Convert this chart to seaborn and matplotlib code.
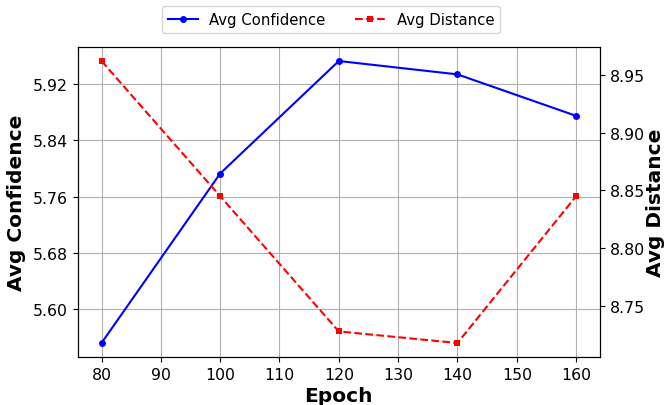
import matplotlib
matplotlib.use("Agg")
import matplotlib.pyplot as plt
import seaborn as sns
import pandas as pd

epochs = [80, 100, 120, 140, 160]
avg_confidence = [5.552, 5.793, 5.953, 5.934, 5.875]
avg_distance = [8.962, 8.845, 8.728, 8.718, 8.845]

plt.rcParams['font.family'] = ['DejaVu Sans']

df = pd.DataFrame({"Epoch": epochs, "conf": avg_confidence, "dist": avg_distance})

fig, ax1 = plt.subplots(figsize=(6.65, 4.06), dpi=100)
fig.subplots_adjust(left=0.117, right=0.902, top=0.882, bottom=0.118)

sns.lineplot(data=df, x="Epoch", y="conf", ax=ax1, color="blue", marker="o",
             markersize=5, markeredgewidth=0, linewidth=1.5, label="Avg Confidence", legend=False)
ax2 = ax1.twinx()
sns.lineplot(data=df, x="Epoch", y="dist", ax=ax2, color="red", marker="s",
             markersize=5, markeredgewidth=0, linewidth=1.5, linestyle="--", label="Avg Distance", legend=False)

ax1.set_yticks([5.60, 5.68, 5.76, 5.84, 5.92])
ax2.set_yticks([8.75, 8.80, 8.85, 8.90, 8.95])
ax1.set_xticks([80, 90, 100, 110, 120, 130, 140, 150, 160])
ax1.grid(True, color="#b0b0b0", linewidth=0.8)
ax1.set_axisbelow(True)

ax1.set_xlabel("Epoch", fontsize=14.5, fontweight="bold", labelpad=3)
ax1.set_ylabel("Avg Confidence", fontsize=14.5, fontweight="bold", labelpad=5)
ax2.set_ylabel("Avg Distance", fontsize=14.5, fontweight="bold", labelpad=1)
ax1.tick_params(labelsize=11.3)
ax2.tick_params(labelsize=11.3)

h1, l1 = ax1.get_legend_handles_labels()
h2, l2 = ax2.get_legend_handles_labels()
fig.legend(h1 + h2, l1 + l2, loc="upper center", ncol=2, fontsize=10.7,
           bbox_to_anchor=(0.498, 1.0), frameon=True)

fig.savefig("out.png", dpi=100)
